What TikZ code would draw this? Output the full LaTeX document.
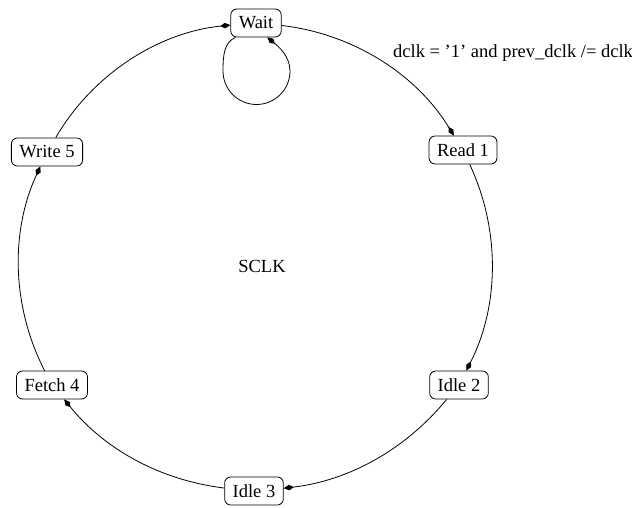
\documentclass[tikz,border=0pt]{standalone}
\usepackage{fontspec}
\setmainfont{Liberation Serif}
\usetikzlibrary{arrows.meta}
\begin{document}
\begin{tikzpicture}[x=1pt,y=1pt,
  every node/.style={font=\fontsize{18.5}{22}\selectfont},
  state/.style={draw, rounded corners=6pt, line width=0.8pt, minimum height=28pt, inner xsep=8pt, inner ysep=2pt},
  arr/.style={line width=0.8pt, -{Kite[length=10pt,width=5.5pt,inset=4.5pt]}},
  arc/.style={arr, looseness=0.9}]
\useasboundingbox (0,0) rectangle (632,507);
\node[state] (wait)  at (256,484) {Wait};
\node[state] (read)  at (463,357) {Read 1};
\node[state] (idle2) at (459,122) {Idle 2};
\node[state] (idle3) at (254,16)  {Idle 3};
\node[state] (fetch) at (52,122)  {Fetch 4};
\node[state] (write) at (47,355)  {Write 5};
\node (sclk) at (262,241) {SCLK};
\node[anchor=base west, inner sep=0pt] (lbl) at (393,449) {dclk = ’1’ and prev\_dclk /= dclk};
\draw[arc] (wait)  to[bend left=26] (read);
\draw[arc] (read)  to[bend left=26] (idle2);
\draw[arc] (idle2) to[bend left=22] (idle3);
\draw[arc] (idle3) to[bend left=22] (fetch);
\draw[arc] (fetch) to[bend left=26] (write);
\draw[arc] (write) to[bend left=27] (wait);
\coordinate (lpL) at (223,436);
\coordinate (lpB) at (256.5,402.5);
\coordinate (lpR) at (290,436);
\draw[arr] (wait.-145) .. controls +(-11,-5) and +(0,17) .. (lpL)
  .. controls +(0,-18.5) and +(-18.5,0) .. (lpB)
  .. controls +(18.5,0) and +(0,-18.5) .. (lpR)
  .. controls +(0,15) and +(11,-9) .. (wait.-52);
\end{tikzpicture}
\end{document}
